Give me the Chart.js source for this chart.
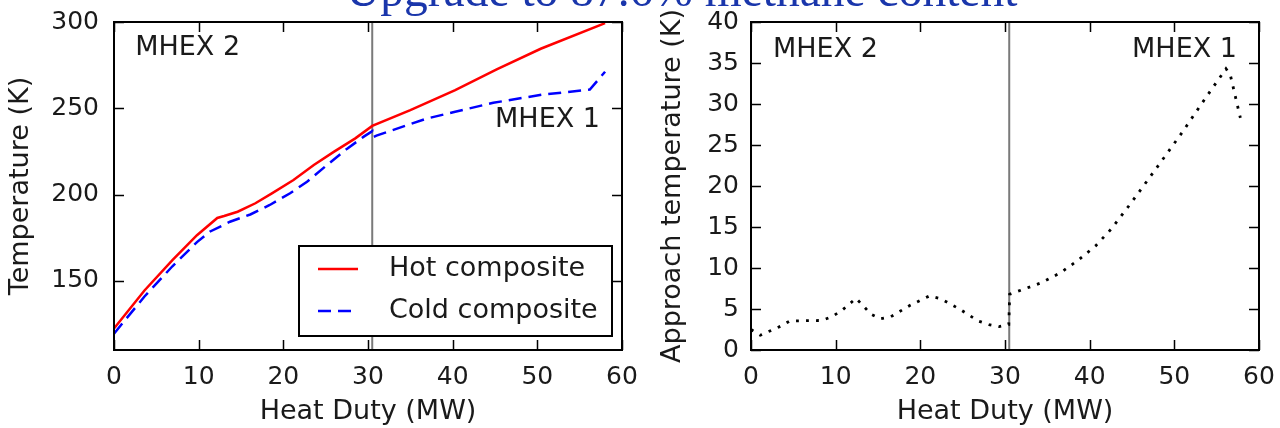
<!DOCTYPE html>
<html>
<head>
<meta charset="utf-8">
<script src="https://cdn.jsdelivr.net/npm/chart.js@4/dist/chart.umd.min.js"></script>
<style>
  html, body { margin: 0; padding: 0; background: #ffffff; width: 1280px; height: 428px; overflow: hidden; }
  #wrap { position: relative; width: 1280px; height: 428px; overflow: hidden; }
  canvas { position: absolute; top: 0; }
  #left { left: 0; }
  #right { left: 640px; }
  #title {
    position: absolute; left: 346px; top: -34px; margin: 0;
    font-family: "Liberation Serif", "Times New Roman", serif; font-size: 47.5px; line-height: 48px;
    color: #1a36ab; white-space: nowrap; z-index: 5;
  }
</style>
</head>
<body>
<div id="wrap">
  <canvas id="left" width="640" height="428"></canvas>
  <canvas id="right" width="640" height="428"></canvas>
  <div id="title">Upgrade to 87.6% methane content</div>
</div>
<script>
// ---------- data ----------
const dutyTicks = [0, 10, 20, 30, 40, 50, 60];
const temperatureTicks = [150, 200, 250, 300];
const approachTicks = [0, 5, 10, 15, 20, 25, 30, 35, 40];

const seriesNames = ['Hot composite', 'Cold composite'];
const exchangerNames = ['MHEX 2', 'MHEX 1'];

const hotDuty = [0, 3.6, 6.9, 9.8, 12.2, 13.0, 14.6, 16.7, 18.7, 21.2, 23.6, 26.0, 28.5, 30.5, 35.0, 40.3, 45.2, 50.4, 58.0];
const hotTemp = [122.5, 144.5, 162, 176.5, 186.5, 187.6, 190.1, 195, 200.9, 208.5, 217.2, 224.9, 232.6, 239.8, 249, 260.6, 272.5, 284.5, 299.3];

const coldDuty = [0, 3.6, 6.9, 9.8, 11.3, 13.7, 16.1, 18.4, 20.8, 22.8, 25.0, 27.5, 29.5, 30.5, 30.55, 31.0, 36.9, 40.3, 44.8, 50.7, 56.2, 58.0];
const coldTemp = [119.5, 141, 158.5, 172.5, 178.5, 184.3, 188.5, 194, 200.8, 207.5, 216.5, 226.5, 233.6, 236.8, 233.2, 234.2, 244, 248, 253.2, 258, 260.8, 271.2];

const approachDuty = [0, 1.1, 3.5, 4.6, 8.4, 9.6, 10.7, 12.4, 14.2, 15.3, 16.5, 18.8, 21.1, 22.4, 24.7, 26.8, 28.1, 29.3, 30.45, 30.55, 31.9, 34.3, 36.6, 38.7, 40.7, 42.5, 44.8, 47.9, 50.9, 53.8, 56.1, 56.6, 57.8];
const approachTemp = [2.5, 1.8, 2.9, 3.55, 3.6, 4.1, 4.8, 6.3, 4.35, 3.8, 4.05, 5.45, 6.6, 6.25, 4.95, 3.55, 3.1, 2.85, 3.1, 6.8, 7.3, 8.2, 9.45, 11.0, 12.7, 14.7, 17.8, 22.2, 26.5, 30.9, 34.3, 33.6, 28.3];

const splitDuty = 30.5;
const tempRange = [110, 300];
const approachRange = [0, 40];
const dutyRange = [0, 60];

// ---------- helpers ----------
const pts = (xs, ys) => xs.map((x, i) => ({ x: x, y: ys[i] }));
const FONT = "'DejaVu Sans', sans-serif";
const TEXT = '#1a1a1a';

const framePlugin = {
  id: 'frameTicks',
  afterDatasetsDraw(chart) {
    const { ctx, chartArea: a, scales: { x, y } } = chart;
    const L = 10;
    ctx.save();
    ctx.strokeStyle = '#000';
    ctx.lineWidth = 1.5;
    ctx.beginPath();
    x.ticks.forEach(t => {
      const p = Math.round(x.getPixelForValue(t.value)) + 0.5;
      ctx.moveTo(p, a.bottom); ctx.lineTo(p, a.bottom - L);
      ctx.moveTo(p, a.top); ctx.lineTo(p, a.top + L);
    });
    y.ticks.forEach(t => {
      const p = Math.round(y.getPixelForValue(t.value)) + 0.5;
      ctx.moveTo(a.left, p); ctx.lineTo(a.left + L, p);
      ctx.moveTo(a.right, p); ctx.lineTo(a.right - L, p);
    });
    ctx.stroke();
    ctx.lineWidth = 2;
    ctx.strokeRect(a.left, a.top, a.right - a.left, a.bottom - a.top);
    ctx.restore();
  }
};

const notePlugin = {
  id: 'notes',
  afterDraw(chart, args, opts) {
    const { ctx, scales: { x, y } } = chart;
    ctx.save();
    ctx.font = "27px " + FONT;
    ctx.fillStyle = TEXT;
    ctx.textBaseline = 'middle';
    (opts.items || []).forEach(it => {
      ctx.textAlign = it.align;
      ctx.fillText(it.text, x.getPixelForValue(it.x), y.getPixelForValue(it.y));
    });
    ctx.restore();
  }
};

const legendPlugin = {
  id: 'boxLegend',
  afterDraw(chart, args, opts) {
    if (!opts.show) return;
    const { ctx, chartArea: a } = chart;
    const w = 313, h = 90;
    const bx = a.right - 10 - w, by = a.bottom - 14 - h;
    ctx.save();
    ctx.fillStyle = '#fff';
    ctx.fillRect(bx, by, w, h);
    ctx.strokeStyle = '#000';
    ctx.lineWidth = 2;
    ctx.strokeRect(bx, by, w, h);
    const ds = chart.data.datasets.filter(d => d.inLegend);
    ds.forEach((d, i) => {
      const yy = by + 23 + i * 42;
      ctx.beginPath();
      ctx.strokeStyle = d.borderColor;
      ctx.lineWidth = d.borderWidth;
      ctx.setLineDash(d.borderDash || []);
      ctx.moveTo(bx + 19, yy); ctx.lineTo(bx + 59, yy);
      ctx.stroke();
      ctx.setLineDash([]);
      ctx.font = "27px " + FONT;
      ctx.fillStyle = TEXT;
      ctx.textAlign = 'left';
      ctx.textBaseline = 'middle';
      ctx.fillText(d.label, bx + 90, yy);
    });
    ctx.restore();
  }
};

function makeScales(yRange, yTicks, yTitle, yWidth, yTitlePad, yTickPad) {
  return {
    x: {
      type: 'linear', min: dutyRange[0], max: dutyRange[1],
      afterBuildTicks: s => { s.ticks = dutyTicks.map(v => ({ value: v })); },
      afterFit: s => { s.height = 78; s.paddingLeft = 0; s.paddingRight = 0; },
      grid: { display: false, drawTicks: false }, border: { display: false },
      ticks: { font: { family: FONT, size: 25 }, color: TEXT, padding: 12, maxRotation: 0, autoSkip: false },
      title: { display: true, text: 'Heat Duty (MW)', font: { family: FONT, size: 27 }, color: TEXT, padding: { top: 0, bottom: 0 } }
    },
    y: {
      type: 'linear', min: yRange[0], max: yRange[1],
      afterBuildTicks: s => { s.ticks = yTicks.map(v => ({ value: v })); },
      afterFit: s => { s.width = yWidth; s.paddingTop = 0; s.paddingBottom = 0; },
      grid: { display: false, drawTicks: false }, border: { display: false },
      ticks: { font: { family: FONT, size: 25 }, color: TEXT, padding: yTickPad, autoSkip: false },
      title: { display: true, text: yTitle, font: { family: FONT, size: 27 }, color: TEXT, padding: { top: yTitlePad, bottom: 0 } }
    }
  };
}

Chart.defaults.font.family = FONT;

new Chart(document.getElementById('left'), {
  type: 'line',
  data: {
    datasets: [
      { label: seriesNames[0], inLegend: true, data: pts(hotDuty, hotTemp), borderColor: '#ff0000', borderWidth: 2.5, pointRadius: 0, tension: 0, fill: false },
      { label: seriesNames[1], inLegend: true, data: pts(coldDuty, coldTemp), borderColor: '#0000ff', borderWidth: 2.5, borderDash: [13, 7], pointRadius: 0, tension: 0, fill: false },
      { label: 'split', data: pts([splitDuty, splitDuty], tempRange), borderColor: '#7a7a7a', borderWidth: 2, pointRadius: 0, fill: false }
    ]
  },
  options: {
    responsive: false, animation: false, devicePixelRatio: 1,
    layout: { padding: { left: 0, right: 18, top: 22, bottom: 0 } },
    scales: makeScales(tempRange, temperatureTicks, 'Temperature (K)', 114, 5, 15),
    plugins: {
      legend: { display: false }, tooltip: { enabled: false },
      notes: { items: [
        { text: exchangerNames[0], x: 2.5, y: 285, align: 'left' },
        { text: exchangerNames[1], x: 57.4, y: 243, align: 'right' }
      ] },
      boxLegend: { show: true }
    }
  },
  plugins: [framePlugin, notePlugin, legendPlugin]
});

new Chart(document.getElementById('right'), {
  type: 'line',
  data: {
    datasets: [
      { label: 'Approach temperature', data: pts(approachDuty, approachTemp), borderColor: '#000000', borderWidth: 2.8, borderDash: [2.8, 7.2], pointRadius: 0, tension: 0, fill: false },
      { label: 'split', data: pts([splitDuty, splitDuty], approachRange), borderColor: '#7a7a7a', borderWidth: 2, pointRadius: 0, fill: false }
    ]
  },
  options: {
    responsive: false, animation: false, devicePixelRatio: 1,
    layout: { padding: { left: 0, right: 21, top: 22, bottom: 0 } },
    scales: makeScales(approachRange, approachTicks, 'Approach temperature (K)', 111, 17, 12),
    plugins: {
      legend: { display: false }, tooltip: { enabled: false },
      notes: { items: [
        { text: exchangerNames[0], x: 2.6, y: 36.6, align: 'left' },
        { text: exchangerNames[1], x: 57.4, y: 36.6, align: 'right' }
      ] },
      boxLegend: { show: false }
    }
  },
  plugins: [framePlugin, notePlugin, legendPlugin]
});
</script>
</body>
</html>
